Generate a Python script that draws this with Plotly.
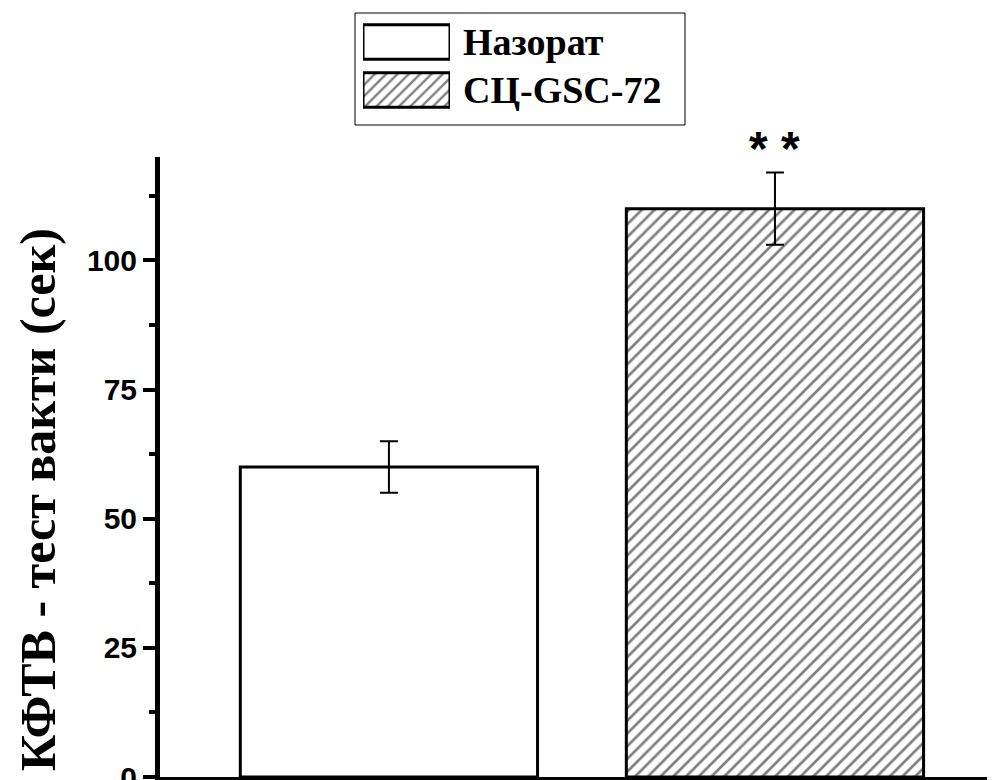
import plotly.graph_objects as go

categories = ["Назорат", "СЦ-GSC-72"]
means = [60, 110]
errors = [5, 7]
patterns = ["", "/"]
y_title = "КФТВ - тест вакти (сек)"
signif = ["", "* *"]
y_ticks = [0, 25, 50, 75, 100]

# page body has an 8px margin; positions below are given in window pixels
OFF = 8
W, H = 995 - OFF, 780 - OFF
plot_left_win, plot_bottom_win, plot_top_win = 160, 777, 157
L = plot_left_win - OFF
B = H - (plot_bottom_win - OFF)
R = 0
plot_w = W - L - R
plot_h = H - B

def px_x(px):
    return (px - OFF - L) / plot_w

def px_y(py):
    return (plot_h - (py - OFF)) / plot_h

pattern_style = dict(fgcolor="black", bgcolor="white", size=9, solidity=0.3)

fig = go.Figure()

for i, (c, m, e, p) in enumerate(zip(categories, means, errors, patterns)):
    fig.add_trace(go.Bar(
        x=[i], y=[m], width=0.77,
        marker=dict(color="white", line=dict(color="black", width=3),
                    pattern=dict(shape=p, **pattern_style)),
        error_y=dict(type="data", array=[e], color="black", thickness=2, width=9),
        showlegend=False, name=c,
    ))

# legend swatches on an inset axis
for i, (c, p) in enumerate(zip(categories, patterns)):
    fig.add_trace(go.Bar(
        y=[i], x=[1], orientation="h", width=0.72, xaxis="x2", yaxis="y2",
        marker=dict(color="white", line=dict(color="black", width=3),
                    pattern=dict(shape=p, fgcolor="black", bgcolor="white", size=8, solidity=0.3)),
        showlegend=False, hoverinfo="skip", name=c,
    ))

fig.update_layout(
    width=W, height=H,
    margin=dict(l=L, r=R, t=0, b=B, pad=0, autoexpand=False),
    paper_bgcolor="white", plot_bgcolor="white",
    barmode="overlay",
    xaxis=dict(range=[-0.593, 1.57], showticklabels=False, ticks="", showgrid=False,
               automargin=False,
               zeroline=False, showline=True, linecolor="black", linewidth=4),
    yaxis=dict(domain=[0, px_y(plot_top_win)], range=[0, 120], tickmode="array", tickvals=y_ticks,
               ticks="outside", ticklen=12, tickwidth=4, tickcolor="black",
               ticklabeloverflow="allow", automargin=False,
               minor=dict(dtick=12.5, tick0=0, ticks="outside", ticklen=6, tickwidth=4, tickcolor="black"),
               showgrid=False, zeroline=False, showline=True, linecolor="black", linewidth=5,
               tickfont=dict(family="Liberation Sans", size=30, color="black", weight="bold")),
    xaxis2=dict(domain=[px_x(363), px_x(450)], range=[0, 1], visible=False, anchor="y2"),
    yaxis2=dict(domain=[px_y(114), px_y(18)], range=[1.5, -0.5], visible=False, anchor="x2"),
)

# legend frame
fig.add_shape(type="rect", xref="paper", yref="paper",
              x0=px_x(355), x1=px_x(685), y0=px_y(125), y1=px_y(13),
              line=dict(color="black", width=1), fillcolor="rgba(0,0,0,0)", layer="below")

for i, c in enumerate(categories):
    fig.add_annotation(x=1.0, y=i, xref="x2", yref="y2", text=f"<b>{c}</b>",
                       showarrow=False, xanchor="left", yanchor="middle", xshift=11,
                       font=dict(family="Liberation Serif", size=38, color="black"))

fig.add_annotation(x=px_x(38), y=px_y(500), xref="paper", yref="paper", text=f"<b>{y_title}</b>",
                   textangle=-90, showarrow=False, xanchor="center", yanchor="middle",
                   font=dict(family="Liberation Serif", size=50, color="black"))

for i, s in enumerate(signif):
    if s:
        fig.add_annotation(x=i, y=means[i] + errors[i], xref="x", yref="y", text=f"<b>{s}</b>",
                           showarrow=False, xanchor="center", yanchor="bottom", yshift=-4,
                           font=dict(family="Liberation Sans", size=48, color="black"))

fig.write_html("out.html")
